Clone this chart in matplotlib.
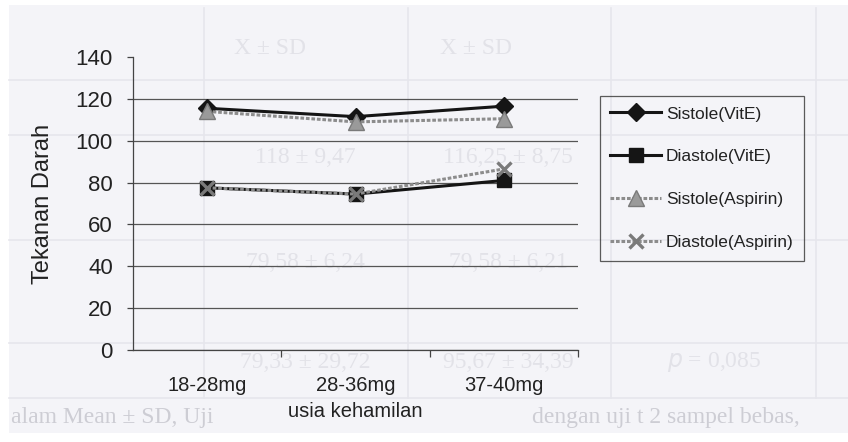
import matplotlib
matplotlib.use("Agg")
import matplotlib.pyplot as plt
from matplotlib.patches import Rectangle
from matplotlib.lines import Line2D

# ---- data ----
categories = ["18-28mg", "28-36mg", "37-40mg"]
sistole_vite = [115.5, 111.5, 116.5]
diastole_vite = [77.5, 74.5, 81.0]
sistole_aspirin = [114.0, 109.0, 110.5]
diastole_aspirin = [77.5, 74.5, 86.5]
y_ticks = [0, 20, 40, 60, 80, 100, 120, 140]
x_label = "usia kehamilan"
y_label = "Tekanan Darah"

plt.rcParams['font.family'] = ['Liberation Sans', 'DejaVu Sans']

W, H = 848, 442
BG = '#f4f4f8'
fig = plt.figure(figsize=(W / 100, H / 100), dpi=100)
fig.patch.set_facecolor('white')

def fx(px):
    return px / W

def fy(py):
    return 1 - py / H

# scanned page background
fig.patches.append(Rectangle((fx(9), fy(433)), fx(W - 9), (433 - 5) / H,
                             transform=fig.transFigure, facecolor=BG,
                             edgecolor='none', zorder=-10))

# faint bleed-through table from the scanned page
ghost_line = '#e6e6ec'
for xv in [204, 408, 611, 816]:
    fig.lines.append(Line2D([fx(xv), fx(xv)], [fy(8), fy(398)],
                            transform=fig.transFigure, color=ghost_line,
                            lw=1.2, zorder=-9))
for yv in [80, 135, 240, 343, 398]:
    fig.lines.append(Line2D([fx(9), fx(848)], [fy(yv), fy(yv)],
                            transform=fig.transFigure, color=ghost_line,
                            lw=1.2, zorder=-9))
ghost_txt = '#e2e2e8'
gkw = dict(family=['Liberation Serif', 'DejaVu Serif'], fontsize=17,
           color=ghost_txt, ha='center', va='center', zorder=-8)
fig.text(fx(270), fy(49), "X \u00b1 SD", **gkw)
fig.text(fx(476), fy(49), "X \u00b1 SD", **gkw)
fig.text(fx(305), fy(157), "118 \u00b1 9,47", **gkw)
fig.text(fx(508), fy(157), "116,25 \u00b1 8,75", **gkw)
fig.text(fx(305), fy(263), "79,58 \u00b1 6,24", **gkw)
fig.text(fx(508), fy(263), "79,58 \u00b1 6,21", **gkw)
fig.text(fx(305), fy(362), "79,33 \u00b1 29,72", **gkw)
fig.text(fx(508), fy(362), "95,67 \u00b1 34,39", **gkw)
fig.text(fx(714), fy(362), "$\\it{p}$ = 0,085", **gkw)
bkw = dict(family=['Liberation Serif', 'DejaVu Serif'], fontsize=17,
           color='#cdcdd4', va='center', zorder=-8)
fig.text(fx(11), fy(418), "alam Mean \u00b1 SD, Uji", ha='left', **bkw)
fig.text(fx(800), fy(418), "dengan uji t 2 sampel bebas,", ha='right', **bkw)

# ---- axes ----
ax = fig.add_axes([fx(133), fy(350), fx(578 - 133), (350 - 57) / H])
ax.patch.set_visible(False)
x = list(range(len(categories)))

ax.plot(x, sistole_vite, color='#151515', lw=2.2, marker='D', ms=9,
        label='Sistole(VitE)', zorder=3)
ax.plot(x, diastole_vite, color='#151515', lw=2.2, marker='s', ms=10,
        label='Diastole(VitE)', zorder=3)
ax.plot(x, sistole_aspirin, color='#8c8c8c', lw=2.2, ls=(0, (1.2, 0.6)),
        marker='^', ms=11, mfc='#9a9a9a', mec='#7a7a7a',
        label='Sistole(Aspirin)', zorder=4)
ax.plot(x, diastole_aspirin, color='#8c8c8c', lw=2.2, ls=(0, (1.2, 0.6)),
        marker='x', ms=10, mew=2.4, mec='#7a7a7a',
        label='Diastole(Aspirin)', zorder=4)

ax.set_xlim(-0.5, len(categories) - 0.5)
ax.set_ylim(0, 140)
ax.set_yticks(y_ticks)
ax.tick_params(axis='y', direction='out', length=4.5, width=0.9,
               color='#444444', pad=10, labelsize=16, labelcolor='#222222')

ax.set_xticks(x)
ax.set_xticklabels(categories)
ax.tick_params(axis='x', which='major', length=0, pad=19, labelsize=14.5,
               labelcolor='#222222')
ax.set_xticks([i + 0.5 for i in x], minor=True)
ax.tick_params(axis='x', which='minor', direction='out', length=5,
               width=0.9, color='#444444')

ax.yaxis.grid(True, color='#555555', lw=0.9)
ax.set_axisbelow(True)
ax.get_ygridlines()[-1].set_visible(False)

for s in ['top', 'right']:
    ax.spines[s].set_visible(False)
for s in ['left', 'bottom']:
    ax.spines[s].set_color('#444444')
    ax.spines[s].set_linewidth(0.9)

ax.set_xlabel(x_label, fontsize=14.5, color='#222222', labelpad=5)
ax.set_ylabel(y_label, fontsize=17, color='#222222', va='center')
ax.yaxis.set_label_coords(-0.202, 0.5)

leg = fig.legend(loc='upper left', bbox_to_anchor=(fx(600), fy(96)),
                 bbox_transform=fig.transFigure, fontsize=12.5,
                 frameon=True, fancybox=False, facecolor='none',
                 edgecolor='#333333', handlelength=2.9, handletextpad=0.3,
                 labelspacing=1.6, borderpad=0.6, borderaxespad=0)
leg.get_frame().set_linewidth(0.9)
for t in leg.get_texts():
    t.set_color('#222222')

fig.savefig('out.png', dpi=100, facecolor=fig.get_facecolor())
